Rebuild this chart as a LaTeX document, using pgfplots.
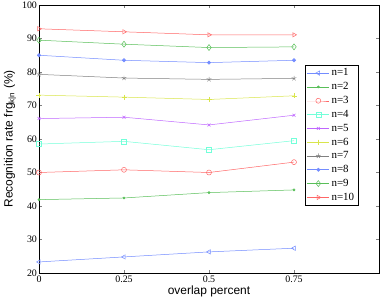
\documentclass[border=0pt]{standalone}
\usepackage{pgfplots}
\pgfplotsset{compat=1.18}
\usepackage{fontspec}
\setmainfont{Liberation Serif}
\newfontfamily\lsans{Liberation Sans}
\definecolor{c1}{rgb}{0.45,0.55,1}
\definecolor{c2}{rgb}{0.35,0.75,0.35}
\definecolor{c3}{rgb}{1,0.4,0.4}
\definecolor{c4}{rgb}{0.45,1,0.85}
\definecolor{c5}{rgb}{0.75,0.4,1}
\definecolor{c6}{rgb}{0.85,0.9,0.3}
\definecolor{c7}{rgb}{0.5,0.5,0.5}
\begin{document}
\begin{tikzpicture}[x=1bp,y=1bp]
\begin{axis}[
  name=ax,
  scale only axis,
  width=340bp, height=268bp,
  xmin=0, xmax=1, ymin=20, ymax=100,
  xtick={0,0.25,0.5,0.75},
  xticklabels={0,0.25,0.5,0.75},
  ytick={20,30,40,50,60,70,80,90,100},
  tick align=inside,
  major tick length=3bp,
  /pgf/number format/assume math mode=true,
  ticklabel style={font=\fontsize{10}{11}\selectfont},
  yticklabel style={xshift=1.5bp},
  xticklabel style={yshift=1bp},
  xlabel={\lsans overlap percent},
  ylabel={\lsans Recognition rate frg\textsubscript{k|n} (\%)},
  label style={font=\fontsize{12}{13}\selectfont},
  xlabel style={at={(axis description cs:0.5,-0.067)}, anchor=center},
  ylabel style={at={(axis description cs:-0.085,0.5)}, anchor=center},
  legend style={at={(0.782,0.776)}, anchor=north west, font=\fontsize{11}{12}\selectfont, draw=black, inner xsep=2bp, inner ysep=1.5bp, row sep=1.1bp},
  legend image code/.code={\draw[mark repeat=2,mark phase=2] plot coordinates {(0bp,0bp) (11bp,0bp) (22bp,0bp)};},
  legend cell align=left,
  every axis plot/.append style={line width=0.5pt, mark size=2.5bp},
]
\addplot[c1, mark=triangle, mark options={rotate=90}] coordinates {(0,23.3) (0.25,24.8) (0.5,26.3) (0.75,27.4)};
\addlegendentry{n=1}
\addplot[c2, mark=*, mark size=1.1bp] coordinates {(0,41.9) (0.25,42.4) (0.5,44.0) (0.75,44.8)};
\addlegendentry{n=2}
\addplot[c3, mark=o] coordinates {(0,50.0) (0.25,50.8) (0.5,50.0) (0.75,53.1)};
\addlegendentry{n=3}
\addplot[c4, mark=square] coordinates {(0,58.5) (0.25,59.3) (0.5,56.8) (0.75,59.5)};
\addlegendentry{n=4}
\addplot[c5, mark=x, mark size=2bp] coordinates {(0,66.1) (0.25,66.5) (0.5,64.2) (0.75,67.1)};
\addlegendentry{n=5}
\addplot[c6, mark=+] coordinates {(0,73.1) (0.25,72.5) (0.5,71.8) (0.75,72.9)};
\addlegendentry{n=6}
\addplot[c7, mark=star] coordinates {(0,79.3) (0.25,78.2) (0.5,77.8) (0.75,78.1)};
\addlegendentry{n=7}
\addplot[c1, mark=*, mark size=1.7bp] coordinates {(0,85.0) (0.25,83.5) (0.5,82.8) (0.75,83.5)};
\addlegendentry{n=8}
\addplot[c2, mark=diamond, mark size=3bp] coordinates {(0,89.5) (0.25,88.3) (0.5,87.3) (0.75,87.5)};
\addlegendentry{n=9}
\addplot[c3, mark=triangle, mark options={rotate=-90}] coordinates {(0,92.9) (0.25,92.0) (0.5,91.1) (0.75,91.1)};
\addlegendentry{n=10}
\end{axis}
\pgfresetboundingbox
\path (ax.south west) ++(-39bp,-28bp) rectangle ++(382bp,301bp);
\end{tikzpicture}
\end{document}
